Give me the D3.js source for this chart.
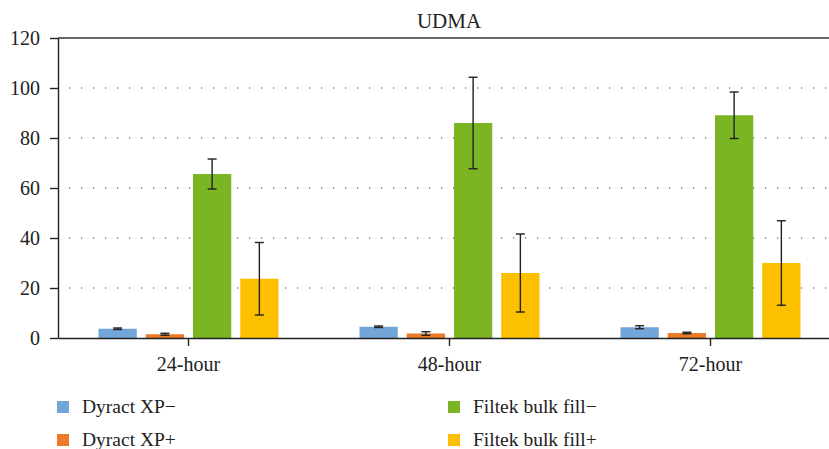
<!DOCTYPE html>
<html>
<head>
<meta charset="utf-8">
<title>UDMA</title>
<script src="https://d3js.org/d3.v7.min.js"></script>
<style>
body { margin: 0; background: #fff; }
svg { display: block; font-family: "Liberation Serif", "DejaVu Serif", serif; }
.axis text { font-family: "Liberation Serif", "DejaVu Serif", serif; font-size: 20px; fill: #222; }
.axis line, .axis path { stroke: #222; stroke-width: 1.4px; }
</style>
</head>
<body>
<svg id="chart" width="829" height="449"></svg>
<script>
var categories = ['24-hour', '48-hour', '72-hour'];
var series = ['Dyract XP\u2212', 'Dyract XP+', 'Filtek bulk fill\u2212', 'Filtek bulk fill+'];
var colors = ['#72a5d8', '#ec7a26', '#7bb524', '#fcc000'];

var dyractMinus = [3.7, 4.5, 4.3];
var dyractMinusErr = [0.3, 0.3, 0.6];
var dyractPlus = [1.5, 1.8, 2.0];
var dyractPlusErr = [0.4, 0.7, 0.3];
var filtekMinus = [65.6, 86.0, 89.1];
var filtekMinusErr = [6.0, 18.3, 9.3];
var filtekPlus = [23.7, 26.0, 30.0];
var filtekPlusErr = [14.5, 15.6, 16.9];

var yTicks = [0, 20, 40, 60, 80, 100, 120];

var values = [dyractMinus, dyractPlus, filtekMinus, filtekPlus];
var errors = [dyractMinusErr, dyractPlusErr, filtekMinusErr, filtekPlusErr];

var svg = d3.select('#chart');
var plotLeft = 58, plotRight = 841, plotTop = 38, plotBottom = 338;

var x = d3.scaleBand().domain(categories).range([plotLeft, plotRight]).padding(0);
var groupWidth = 180;
var xInner = d3.scaleBand().domain(d3.range(series.length)).range([0, groupWidth]).paddingInner(0.19).paddingOuter(0);
var y = d3.scaleLinear().domain([0, 120]).range([plotBottom, plotTop]);

// dotted grid lines
svg.append('g').selectAll('line')
	.data(yTicks.filter(function (d) { return d > 0 && d < 120; }))
	.join('line')
	.attr('x1', plotLeft + 11).attr('x2', plotRight)
	.attr('y1', function (d) { return y(d); })
	.attr('y2', function (d) { return y(d); })
	.attr('stroke', '#333')
	.attr('stroke-width', 1.2)
	.attr('stroke-dasharray', '1.2 10.8');

// flatten data into rows
var rows = [];
categories.forEach(function (c, i) {
	series.forEach(function (s, j) {
		rows.push({ cat: c, s: j, v: values[j][i], e: errors[j][i] });
	});
});

function barX(d) {
	return x(d.cat) + (x.bandwidth() - groupWidth) / 2 + xInner(d.s);
}

svg.append('g').selectAll('rect')
	.data(rows)
	.join('rect')
	.attr('x', barX)
	.attr('y', function (d) { return y(d.v); })
	.attr('width', xInner.bandwidth())
	.attr('height', function (d) { return y(0) - y(d.v); })
	.attr('fill', function (d) { return colors[d.s]; });

// error bars
var eg = svg.append('g').attr('stroke', '#222').attr('stroke-width', 1.4);
rows.forEach(function (d) {
	var cx = barX(d) + xInner.bandwidth() / 2;
	var y1 = y(d.v + d.e), y2 = y(d.v - d.e);
	eg.append('line').attr('x1', cx).attr('x2', cx).attr('y1', y1).attr('y2', y2);
	eg.append('line').attr('x1', cx - 4.5).attr('x2', cx + 4.5).attr('y1', y1).attr('y2', y1);
	eg.append('line').attr('x1', cx - 4.5).attr('x2', cx + 4.5).attr('y1', y2).attr('y2', y2);
});

// axes
svg.append('g')
	.attr('class', 'axis')
	.attr('transform', 'translate(' + plotLeft + ',0)')
	.call(d3.axisLeft(y).tickValues(yTicks).tickSize(8).tickSizeOuter(0).tickPadding(10));

svg.append('g')
	.attr('class', 'axis')
	.attr('transform', 'translate(0,' + plotBottom + ')')
	.call(d3.axisBottom(x).tickSize(8).tickSizeOuter(0).tickPadding(11));

svg.append('line')
	.attr('x1', plotLeft).attr('x2', plotRight)
	.attr('y1', plotTop).attr('y2', plotTop)
	.attr('stroke', '#333').attr('stroke-width', 1.4);

svg.append('text')
	.attr('x', 449).attr('y', 28)
	.attr('text-anchor', 'middle')
	.attr('font-size', 21)
	.attr('fill', '#222')
	.text('UDMA');

// legend
var legendX = [57, 448], legendY = [401, 434];
var legend = svg.append('g').selectAll('g')
	.data(series)
	.join('g')
	.attr('transform', function (d, i) {
		return 'translate(' + legendX[Math.floor(i / 2)] + ',' + legendY[i % 2] + ')';
	});
legend.append('rect')
	.attr('width', 12).attr('height', 12)
	.attr('fill', function (d, i) { return colors[i]; });
legend.append('text')
	.attr('x', 25).attr('y', 11.5)
	.attr('font-size', 19.5)
	.attr('fill', '#222')
	.text(function (d) { return d; });
</script>
</body>
</html>
